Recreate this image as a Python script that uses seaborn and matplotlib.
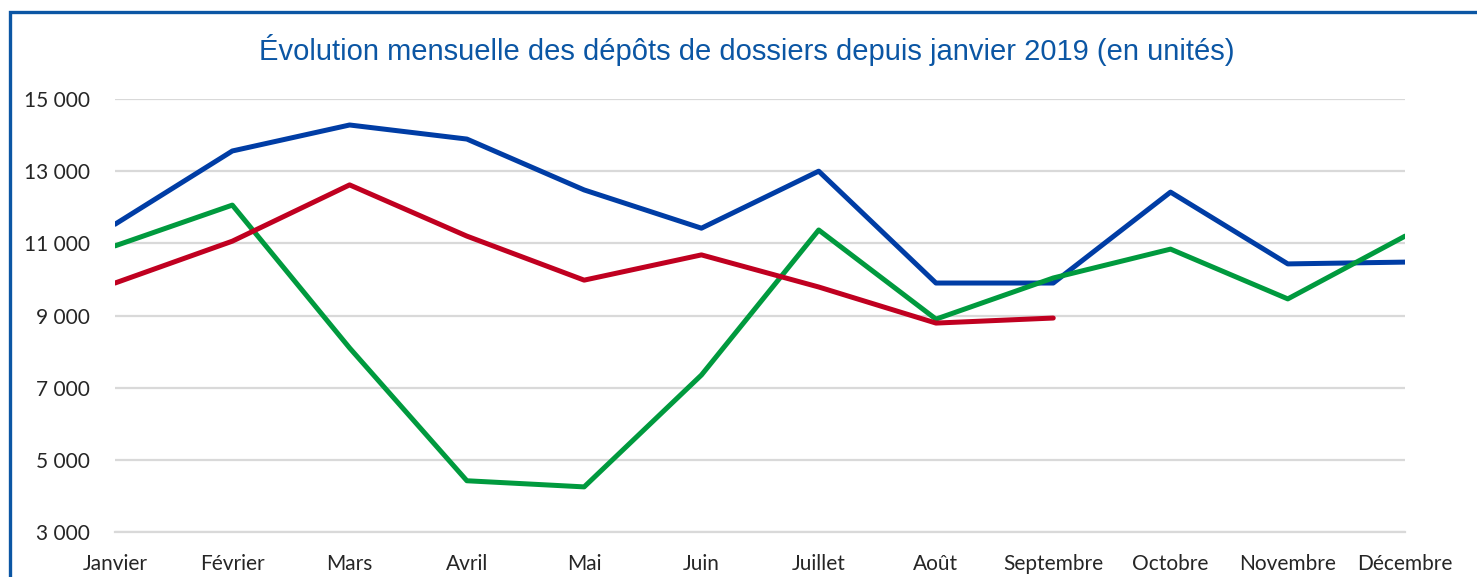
import matplotlib
matplotlib.use('Agg')
import matplotlib.pyplot as plt
import seaborn as sns
import pandas as pd
from matplotlib.patches import Rectangle
from matplotlib.ticker import FuncFormatter

mois = ['Janvier', 'Février', 'Mars', 'Avril', 'Mai', 'Juin', 'Juillet',
        'Août', 'Septembre', 'Octobre', 'Novembre', 'Décembre']
serie_2019 = [11530, 13560, 14280, 13890, 12480, 11420, 13000,
              9900, 9900, 12420, 10430, 10480]
serie_2020 = [10930, 12060, 8100, 4420, 4250, 7350, 11370,
              8900, 10040, 10840, 9460, 11200]
serie_2021 = [9900, 11060, 12620, 11200, 9980, 10680, 9790,
              8790, 8930]
annees = ['2019', '2020', '2021']
couleurs = ['#003DA5', '#009A3E', '#C00020']

# table longue pour seaborn
lignes = []
for annee, serie in zip(annees, [serie_2019, serie_2020, serie_2021]):
    for i, v in enumerate(serie):
        lignes.append({'mois': i, 'valeur': v, 'annee': annee})
df = pd.DataFrame(lignes)

sns.set_style('white')
plt.rcParams['font.family'] = ['Lato', 'DejaVu Sans']

fig = plt.figure(figsize=(14.77, 5.77), dpi=100)
ax = fig.add_axes([0.0779, 0.078, 0.8734, 0.7504])

sns.lineplot(data=df, x='mois', y='valeur', hue='annee', palette=couleurs,
             linewidth=3.6, legend=False, ax=ax, solid_capstyle='round')

ax.set_xlim(0, 11)
ax.set_ylim(3000, 15000)
ax.set_yticks(range(3000, 15001, 2000))
ax.yaxis.set_major_formatter(FuncFormatter(lambda v, p: f'{int(v):,}'.replace(',', ' ')))
ax.set_xticks(range(12))
ax.set_xticklabels(mois)
ax.grid(axis='y', color='#D9D9D9', linewidth=1.6)
ax.set_axisbelow(True)
for s in ['top', 'right', 'left']:
    ax.spines[s].set_visible(False)
ax.spines['bottom'].set_color('#D9D9D9')
ax.spines['bottom'].set_linewidth(1.6)
ax.tick_params(axis='x', length=10, width=1.2, color='#D9D9D9', labelsize=15, pad=6)
ax.tick_params(axis='y', length=0, labelsize=15, pad=18)
ax.set_xlabel('')
ax.set_ylabel('')

fig.text(0.5057, 0.913, 'Évolution mensuelle des dépôts de dossiers depuis janvier 2019 (en unités)',
         ha='center', va='center', fontsize=21, color='#0B56A4', family='Liberation Sans')

# cadre bleu
fig.patches.append(Rectangle((9.5 / 1477, -0.05), 1.1, (577 - 11.5) / 577 + 0.05,
                             transform=fig.transFigure, fill=False,
                             edgecolor='#0B56A4', linewidth=2.4))

fig.savefig('out.png', dpi=100)
